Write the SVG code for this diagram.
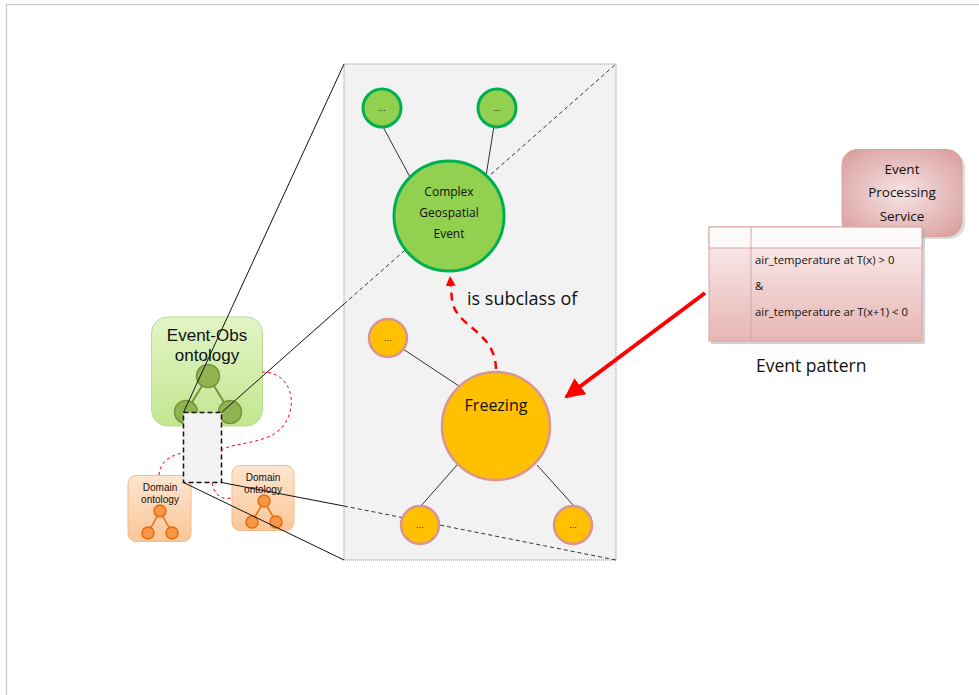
<svg xmlns="http://www.w3.org/2000/svg" width="979" height="695" viewBox="0 0 979 695">
<defs>
<linearGradient id="gGreen" x1="0" y1="0" x2="0" y2="1"><stop offset="0" stop-color="#e2f5c6"/><stop offset="1" stop-color="#c2e690"/></linearGradient>
<linearGradient id="gOrange" x1="0" y1="0" x2="0" y2="1"><stop offset="0" stop-color="#fde6d0"/><stop offset="1" stop-color="#fbc597"/></linearGradient>
<radialGradient id="gPink" cx="0.5" cy="0.5" r="0.7"><stop offset="0" stop-color="#f6e4e4"/><stop offset="1" stop-color="#d99a9a"/></radialGradient>
<linearGradient id="gTable" x1="0" y1="0" x2="0" y2="1"><stop offset="0" stop-color="#fbf1f1"/><stop offset="1" stop-color="#e6b5b4"/></linearGradient>
<marker id="arrRed" viewBox="0 0 10 10" refX="9" refY="5" markerWidth="4" markerHeight="4" orient="auto"><path d="M0,0 L10,5 L0,10 z" fill="#ff0000"/></marker>
<marker id="arrBig" viewBox="0 0 10 10" refX="9" refY="5" markerWidth="5" markerHeight="5" orient="auto"><path d="M0,0 L10,5 L0,10 z" fill="#ff0000"/></marker>
</defs>
<style>
text{font-family:"Liberation Sans","Open Sans",sans-serif;fill:#111}
.cal{font-family:"Open Sans","Liberation Sans",sans-serif}
.gsmall{fill:#92d050;stroke:#00b050;stroke-width:3}
.osmall{fill:#ffc000;stroke:#d99594;stroke-width:2.5}
.edge{stroke:#333;stroke-width:1;fill:none}
.zoom{stroke:#111;stroke-width:1;fill:none}
.zoomd{stroke:#333;stroke-width:1;fill:none;stroke-dasharray:4 3}
.rdash{stroke:#ff0000;stroke-width:1;fill:none;stroke-dasharray:3 3}
.dots{font-size:9px;text-anchor:middle}
.gc{fill:#8fb34f;stroke:#76923c;stroke-width:1.5}
.oc{fill:#f79646;stroke:#e46c0a;stroke-width:1.5}
.dom{fill:url(#gOrange);stroke:#f9b98a;stroke-width:1}
</style>
<rect x="6.5" y="4.5" width="990" height="700" fill="#fff" stroke="#c8c8c8" stroke-width="1.2"/>

<g id="zoom-panel">
<rect x="344" y="64" width="272" height="496" fill="#f2f2f2" stroke="#888" stroke-width="1" stroke-dasharray="1 1"/>
</g>

<g id="event-obs-ontology">
<rect x="151.5" y="317" width="111" height="109" rx="16" fill="url(#gGreen)" stroke="#b7dc8e" stroke-width="1"/>
<text x="207" y="341" font-size="17" text-anchor="middle">Event-Obs</text>
<text x="207" y="361" font-size="17" text-anchor="middle">ontology</text>
<line x1="208" y1="376" x2="186" y2="412" stroke="#76923c" stroke-width="2"/>
<line x1="208" y1="376" x2="230" y2="412" stroke="#76923c" stroke-width="2"/>
<circle class="gc" cx="208" cy="376" r="11.5"/>
<circle class="gc" cx="186" cy="412" r="11.5"/>
<circle class="gc" cx="230" cy="412" r="11.5"/>
</g>

<g id="domain-ontology-left">
<rect class="dom" x="128" y="475.5" width="63" height="66" rx="8"/>
<text x="160" y="491" font-size="10" text-anchor="middle">Domain</text>
<text x="160" y="503" font-size="10" text-anchor="middle">ontology</text>
<line x1="160" y1="511" x2="148" y2="533" stroke="#e46c0a" stroke-width="1.5"/>
<line x1="160" y1="511" x2="172" y2="533" stroke="#e46c0a" stroke-width="1.5"/>
<circle class="oc" cx="160" cy="511" r="6"/>
<circle class="oc" cx="148" cy="533" r="6"/>
<circle class="oc" cx="172" cy="533" r="6"/>
</g>

<g id="domain-ontology-right">
<rect class="dom" x="232" y="465.5" width="62" height="65" rx="8"/>
<text x="263" y="481" font-size="10" text-anchor="middle">Domain</text>
<text x="263" y="493" font-size="10" text-anchor="middle">ontology</text>
<line x1="264" y1="501" x2="252" y2="522" stroke="#e46c0a" stroke-width="1.5"/>
<line x1="264" y1="501" x2="276" y2="522" stroke="#e46c0a" stroke-width="1.5"/>
<circle class="oc" cx="264" cy="501" r="6"/>
<circle class="oc" cx="252" cy="522" r="6"/>
<circle class="oc" cx="276" cy="522" r="6"/>
</g>

<g id="selection">
<rect x="183.5" y="412.5" width="38" height="70" fill="#f2f2f2" stroke="#111" stroke-width="1.5" stroke-dasharray="5 3"/>
</g>

<g id="connectors">
<path class="rdash" d="M262,372 C300,372 300,425 268,437 C248,445 228,444 221,451"/>
<path class="rdash" d="M159,475 C160,462 170,455 183,453"/>
<path class="rdash" d="M212,483 C215,500 228,500 233,497"/>
<line class="zoom" x1="183.5" y1="412.5" x2="344" y2="64"/>
<line class="zoom" x1="221.5" y1="412.5" x2="344" y2="304"/>
<line class="zoomd" x1="344" y1="304" x2="616" y2="64"/>
<line class="zoom" x1="183.5" y1="482.5" x2="344" y2="560"/>
<line class="zoom" x1="221.5" y1="482.5" x2="344" y2="506"/>
<line class="zoomd" x1="344" y1="506" x2="616" y2="560"/>
<line class="edge" x1="382" y1="125" x2="410" y2="177"/>
<line class="edge" x1="494" y1="126" x2="486" y2="176"/>
<line class="edge" x1="403" y1="349" x2="459" y2="386"/>
<line class="edge" x1="457" y1="465" x2="420" y2="507"/>
<line class="edge" x1="537" y1="465" x2="573" y2="505"/>
<path d="M496,369 C495,330 456,328 452,300 L450,277" stroke="#ff0000" stroke-width="2.5" fill="none" stroke-dasharray="8 6" marker-end="url(#arrRed)"/>
<line x1="705" y1="293" x2="566" y2="397" stroke="#ff0000" stroke-width="4" marker-end="url(#arrBig)"/>
</g>

<g id="node-dots-1"><circle class="gsmall" cx="382" cy="108" r="19"/><text class="dots" x="382" y="111">...</text></g>
<g id="node-dots-2"><circle class="gsmall" cx="497" cy="108" r="19"/><text class="dots" x="497" y="111">...</text></g>
<g id="complex-geospatial-event">
<circle class="gsmall" cx="449" cy="216" r="55"/>
<text class="cal" x="449" y="196" font-size="12" text-anchor="middle">Complex</text>
<text class="cal" x="449" y="217" font-size="12" text-anchor="middle">Geospatial</text>
<text class="cal" x="449" y="238" font-size="12" text-anchor="middle">Event</text>
</g>
<text class="cal" x="467" y="305" font-size="18">is subclass of</text>

<g id="node-dots-3"><circle class="osmall" cx="388" cy="338" r="19"/><text class="dots" x="388" y="341">...</text></g>
<g id="freezing">
<circle class="osmall" cx="496" cy="426" r="54" stroke-width="3"/>
<text class="cal" x="496" y="411" font-size="16" text-anchor="middle">Freezing</text>
</g>
<g id="node-dots-4"><circle class="osmall" cx="420" cy="525" r="19"/><text class="dots" x="420" y="528">...</text></g>
<g id="node-dots-5"><circle class="osmall" cx="573" cy="525" r="19"/><text class="dots" x="573" y="528">...</text></g>

<g id="event-processing-service">
<rect x="845" y="152" width="120" height="87" rx="15" fill="#bbb" opacity="0.5"/>
<rect x="842" y="149.5" width="120" height="87" rx="15" fill="url(#gPink)" stroke="#d9a3a3" stroke-width="1"/>
<text class="cal" x="902" y="174" font-size="13.5" text-anchor="middle">Event</text>
<text class="cal" x="902" y="197" font-size="13.5" text-anchor="middle">Processing</text>
<text class="cal" x="902" y="221" font-size="13.5" text-anchor="middle">Service</text>
</g>

<g id="event-pattern">
<rect x="711" y="229" width="214" height="115" fill="#aaa" opacity="0.5"/>
<rect x="709" y="227" width="213" height="114" fill="url(#gTable)" stroke="#d9a3a3" stroke-width="1"/>
<rect x="709" y="227" width="213" height="21" fill="#fdfafa" stroke="#d9a3a3" stroke-width="1"/>
<line x1="751" y1="227" x2="751" y2="341" stroke="#d9a3a3" stroke-width="1"/>
<text class="cal" x="755" y="264" font-size="11.3">air_temperature at T(x) &gt; 0</text>
<text class="cal" x="755" y="290" font-size="11.3">&amp;</text>
<text class="cal" x="755" y="316" font-size="11.3">air_temperature ar T(x+1) &lt; 0</text>
<text class="cal" x="756" y="372" font-size="17.5">Event pattern</text>
</g>
</svg>
